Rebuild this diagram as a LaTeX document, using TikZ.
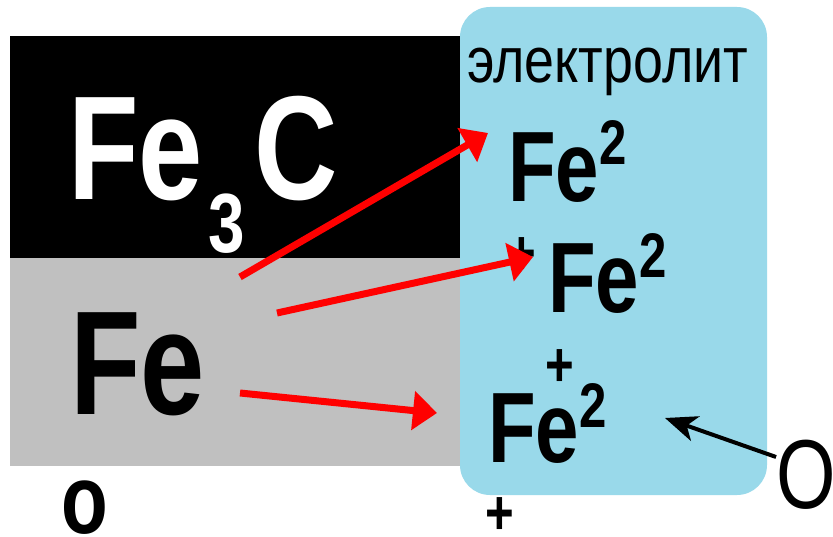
\documentclass[tikz,border=0pt]{standalone}
\usepackage{fontspec}
\setmainfont{Liberation Sans}
\newfontfamily\narrowfont[FakeStretch=0.78]{Liberation Sans}
\newfontfamily\labelfont[FakeStretch=0.84]{Liberation Sans}
\usetikzlibrary{arrows.meta, positioning}
\definecolor{electroblue}{RGB}{153, 217, 234}
\definecolor{steelgray}{RGB}{192, 192, 192}
\definecolor{arrowred}{RGB}{255, 0, 0}

\begin{document}
\begin{tikzpicture}[
    x=1pt, y=-1pt,
    txt/.style={inner sep=0pt, anchor=base west},
    bigfe/.style={txt, font=\narrowfont\bfseries\fontsize{148}{148}\selectfont},
    ionfe/.style={txt, font=\narrowfont\bfseries\fontsize{100}{100}\selectfont},
    charge/.style={inner sep=0pt, font=\narrowfont\bfseries\fontsize{63}{63}\selectfont},
    flow/.style={draw=arrowred, line width=7pt, -{Triangle[length=24pt, width=38pt]}},
    pointer/.style={draw=black, line width=4pt, -{Stealth[length=32pt, width=26pt, inset=9pt]}}
]
\useasboundingbox (0,0) rectangle (833,537);

% phases
\fill[black] (10,36) rectangle (463,258);
\fill[steelgray] (10,258) rectangle (463,466);
\fill[electroblue, rounded corners=30pt] (460,7) rectangle (767,495);

\node[bigfe, text=white] (fe3c) at (68,200) {Fe\kern6pt\raisebox{-53pt}{\fontsize{84}{84}\selectfont 3}\kern9pt C};
\node[bigfe] (fe) at (70,414) {Fe};
\node[txt, font=\labelfont\fontsize{64}{64}\selectfont] (electrolyte) at (467,83) {электролит};

% ions
\node[ionfe] (ion1) at (508,202) {Fe\raisebox{37pt}{\fontsize{63}{63}\selectfont 2}};
\node[charge] (plus2) at (522,256) {+};
\node[ionfe] (ion2) at (548,313) {Fe\raisebox{35pt}{\fontsize{63}{63}\selectfont 2}};
\node[charge] (plus3) at (560,368) {+};
\node[ionfe] (ion3) at (488,462) {Fe\raisebox{35pt}{\fontsize{63}{63}\selectfont 2}};

% poles
\node[charge, font=\narrowfont\bfseries\fontsize{98}{98}\selectfont] (zero) at (85,508) {o};
\node[charge] (plusbottom) at (500,516) {+};
\node[inner sep=0pt, font=\narrowfont\fontsize{98}{98}\selectfont] (ocap) at (806,475) {O};

% dissolution
\coordinate (s1) at (240,277);
\coordinate (e1) at (488,133);
\coordinate (s2) at (277,313);
\coordinate (e2) at (533,257);
\coordinate (s3) at (240,393);
\coordinate (e3) at (437,413);
\coordinate (p1) at (665,418);
\draw[flow] (s1) -- (e1);
\draw[flow] (s2) -- (e2);
\draw[flow] (s3) -- (e3);
\draw[pointer] (ocap.west |- 0,457) -- (p1);
\end{tikzpicture}
\end{document}
